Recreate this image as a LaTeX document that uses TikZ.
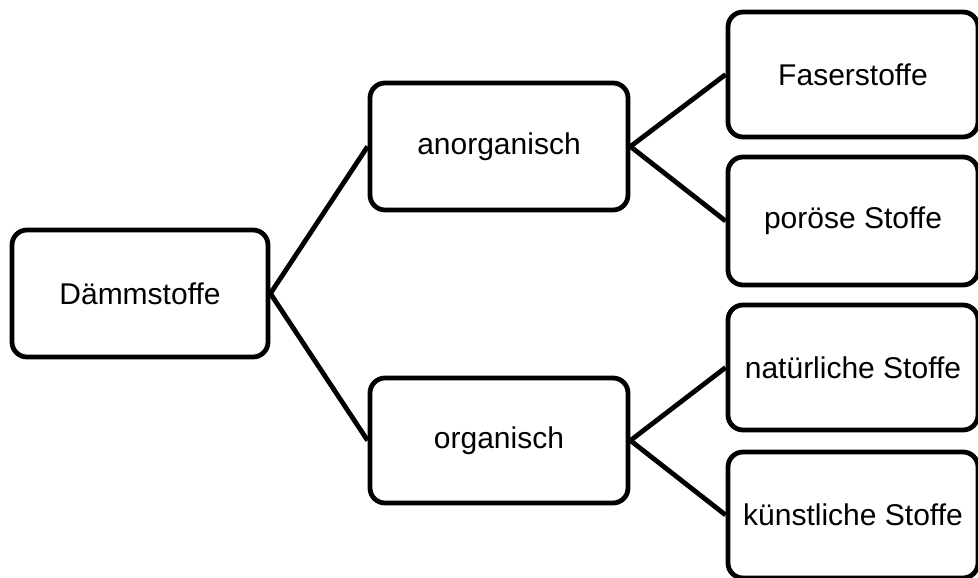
\documentclass[tikz,border=0pt]{standalone}
\usepackage{fontspec}
\setmainfont{Liberation Sans}
\begin{document}
\begin{tikzpicture}[x=1pt,y=-1pt,
  box/.style={draw=black, line width=4.8pt, rounded corners=15pt, fill=white,
    inner sep=0pt, font=\fontsize{30}{36}\selectfont},
  link/.style={draw=black, line width=4.8pt}]
\useasboundingbox (0,0) rectangle (978,578);
\fill[white] (0,0) rectangle (978,578);
\node[box, minimum width=256pt, minimum height=127pt] (d) at (140,293.5) {Dämmstoffe};
\node[box, minimum width=258pt, minimum height=127pt] (a) at (499,146.5) {anorganisch};
\node[box, minimum width=258pt, minimum height=125pt] (o) at (499,440.5) {organisch};
\node[box, minimum width=250pt, minimum height=125pt] (f) at (853,74.5) {Faserstoffe};
\node[box, minimum width=250pt, minimum height=128pt] (p) at (853,221) {poröse Stoffe};
\node[box, minimum width=250pt, minimum height=125pt] (n) at (853,367.5) {natürliche Stoffe};
\node[box, minimum width=250pt, minimum height=126pt] (k) at (853,515) {künstliche Stoffe};
\draw[link] (d.east) -- (a.west);
\draw[link] (d.east) -- (o.west);
\draw[link] (a.east) -- (f.west);
\draw[link] (a.east) -- (p.west);
\draw[link] (o.east) -- (n.west);
\draw[link] (o.east) -- (k.west);
\end{tikzpicture}
\end{document}
